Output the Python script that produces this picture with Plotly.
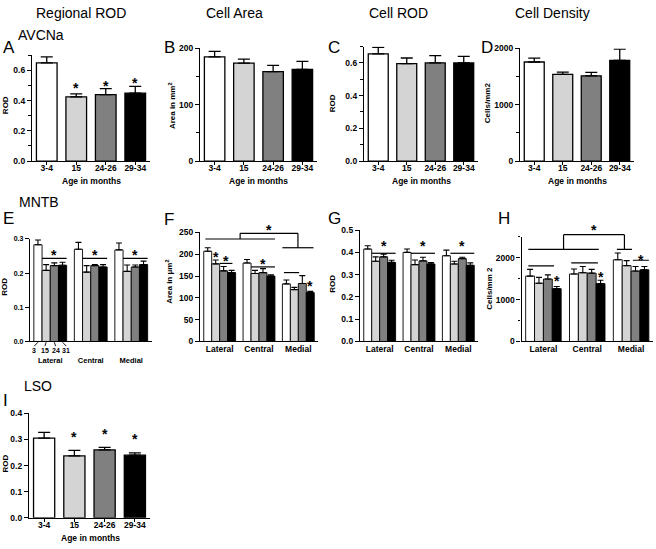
import plotly.graph_objects as go

W, H = 656, 549

ages = ["3-4", "15", "24-26", "29-34"]
age_short = ["3", "15", "24", "31"]
regions = ["Lateral", "Central", "Medial"]
age_colors = ["white", "#d4d4d4", "#808080", "black"]

# AVCNa (top row)
avcna_rod = [0.65, 0.425, 0.44, 0.45]
avcna_rod_err = [0.04, 0.02, 0.04, 0.045]
avcna_area = [185, 174, 159, 163]
avcna_area_err = [10, 7, 11, 14]
avcna_cell_rod = [0.655, 0.595, 0.60, 0.60]
avcna_cell_rod_err = [0.04, 0.035, 0.045, 0.04]
avcna_density = [1760, 1540, 1515, 1790]
avcna_density_err = [70, 40, 60, 200]

# MNTB (middle row): one list per age group, values for Lateral / Central / Medial
mntb_rod = [[0.283, 0.270, 0.268], [0.208, 0.203, 0.205], [0.222, 0.222, 0.218], [0.223, 0.218, 0.225]]
mntb_rod_err = [[0.014, 0.020, 0.020], [0.017, 0.019, 0.019], [0.008, 0.003, 0.006], [0.009, 0.007, 0.010]]
mntb_area = [[207, 180, 132], [178, 156, 119], [162, 158, 133], [158, 150, 112]]
mntb_area_err = [[8, 8, 9], [9, 7, 5], [10, 9, 18], [5, 3, 3]]
mntb_cell_rod = [[0.415, 0.400, 0.385], [0.360, 0.345, 0.348], [0.380, 0.362, 0.372], [0.355, 0.348, 0.342]]
mntb_cell_rod_err = [[0.015, 0.015, 0.025], [0.020, 0.021, 0.012], [0.012, 0.016, 0.006], [0.010, 0.006, 0.011]]
mntb_density = [[1560, 1610, 1950], [1390, 1640, 1810], [1490, 1630, 1680], [1260, 1380, 1710]]
mntb_density_err = [[160, 120, 160], [140, 150, 120], [100, 90, 110], [50, 80, 80]]

# LSO (bottom)
lso_rod = [0.305, 0.237, 0.26, 0.24]
lso_rod_err = [0.022, 0.021, 0.010, 0.009]

# significance: stars over single bars (panel, bar, y)
stars_single = [(1, 1, 0.50), (1, 2, 0.51), (1, 3, 0.53),
                (9, 1, 0.318), (9, 2, 0.328), (9, 3, 0.309)]
# stars over grouped bars (panel, group, bar, y)
stars_grouped = [(6, 0, 1, 199), (6, 2, 3, 131),
                 (8, 0, 3, 1486), (8, 1, 3, 1587)]
# lines over bars (panel, group, from, to [bar units], y, star y or None)
sig_lines = [(5, 0, 1, 4, 0.243, 0.258), (5, 1, 1, 4, 0.243, 0.258), (5, 2, 1, 4, 0.243, 0.258),
             (6, 0, 2, 3.6, 179, 190), (6, 1, 1, 4, 171, 182), (6, 2, 0.2, 2.1, 158, None),
             (7, 0, 1, 4, 0.396, 0.438), (7, 1, 1, 4, 0.396, 0.438), (7, 2, 1, 4, 0.396, 0.438),
             (8, 0, 0.3, 3.2, 1805, None), (8, 1, 0.2, 3.2, 1875, None), (8, 2, 2.2, 4, 1938, 1992)]
# brackets between region groups (panel, left span, right span, y left, y right, y top, star y)
brackets = [(6, (0, 0.2, 1, 4), (2, 0, 2, 3.9), 235, 215, 248, 261),
            (8, (0, 0.3, 1, 3.3), (2, 0.4, 2, 2.1), 2196, 2196, 2548, 2705)]

GAP = 0.19
BW = (1 - GAP) / 4


def gx(g, p):
    return g - 2 * BW + p * BW


def px(p):
    return p / W


def py(p):
    return 1 - p / H


FONT = "Liberation Sans, Arial, sans-serif"

panels = {
    1: dict(x=(32, 150), y=(159, 51.3), rng=[0, 0.7], dtick=0.2, minor=0.1, fmt=".1f"),
    2: dict(x=(200, 317), y=(159, 44.3), rng=[0, 200], dtick=100, minor=50, fmt=""),
    3: dict(x=(364, 478), y=(159, 42.3), rng=[0, 0.7], dtick=0.2, minor=0.1, fmt=".1f"),
    4: dict(x=(520, 634), y=(159, 44.3), rng=[0, 2000], dtick=1000, minor=500, fmt=""),
    5: dict(x=(30, 151.5), y=(342.7, 238.3), rng=[0, 0.3], dtick=0.1, minor=None, fmt=".1f"),
    6: dict(x=(200, 318), y=(342.7, 231.7), rng=[0, 250], dtick=50, minor=None, fmt=""),
    7: dict(x=(360, 478), y=(342.7, 229.3), rng=[0, 0.5], dtick=0.1, minor=None, fmt=".1f"),
    8: dict(x=(521.5, 653), y=(342.7, 236), rng=[0, 2500], dtick=1000, minor=500, fmt=""),
    9: dict(x=(29, 150), y=(522.3, 416), rng=[0, 0.4], dtick=0.1, minor=None, fmt=".1f"),
}


def vy(n, v):
    # value on panel n's y axis -> paper fraction (so marks above the range still show)
    p = panels[n]
    b, t = py(p["y"][0]), py(p["y"][1])
    r0, r1 = p["rng"]
    return b + (v - r0) / (r1 - r0) * (t - b)


fig = go.Figure()
layout = {}
for n, p in panels.items():
    sfx = "" if n == 1 else str(n)
    grouped = n in (5, 6, 7, 8)
    cats = regions if grouped else ages
    tick_size = 7 if n == 5 else 8.5
    layout["xaxis" + sfx] = dict(
        domain=[px(p["x"][0]), px(p["x"][1])], anchor="y" + sfx,
        type="category", categoryarray=cats, range=[-0.5, len(cats) - 0.5],
        showline=True, linecolor="black", linewidth=1.3,
        ticks="" if grouped else "outside", ticklen=3, tickcolor="black",
        ticklabelstandoff=11 if n == 5 else (-1 if grouped else -4),
        tickfont=dict(family=FONT, size=7.5 if n == 5 else 8.5, color="black", weight="bold"),
        showgrid=False, zeroline=False,
    )
    ya = dict(
        domain=[py(p["y"][0]), py(p["y"][1])], anchor="x" + sfx,
        range=p["rng"], tick0=0, dtick=p["dtick"], tickformat=p["fmt"],
        showline=True, linecolor="black", linewidth=1.3,
        ticks="outside", ticklen=4, tickcolor="black",
        tickfont=dict(family=FONT, size=tick_size, color="black", weight="bold"),
        showgrid=False, zeroline=False,
    )
    if p["minor"]:
        ya["minor"] = dict(dtick=p["minor"], ticks="outside", ticklen=2.5, tickcolor="black")
    layout["yaxis" + sfx] = ya


def single_panel(n, vals, errs):
    sfx = "" if n == 1 else str(n)
    fig.add_trace(go.Bar(
        x=ages, y=vals, width=0.7,
        marker=dict(color=age_colors, line=dict(color="black", width=1.3)),
        error_y=dict(type="data", array=errs, arrayminus=[0] * len(errs), symmetric=False,
                     color="black", thickness=1.3, width=6),
        xaxis="x" + sfx, yaxis="y" + sfx, cliponaxis=False, showlegend=False,
    ))


def grouped_panel(n, vals, errs):
    for i in range(len(ages)):
        fig.add_trace(go.Bar(
            x=regions, y=vals[i], name=ages[i],
            marker=dict(color=age_colors[i], line=dict(color="black", width=0.9)),
            error_y=dict(type="data", array=errs[i], arrayminus=[0] * 3, symmetric=False,
                         color="black", thickness=1.1, width=3),
            xaxis="x" + str(n), yaxis="y" + str(n), cliponaxis=False, showlegend=False,
        ))


single_panel(1, avcna_rod, avcna_rod_err)
single_panel(2, avcna_area, avcna_area_err)
single_panel(3, avcna_cell_rod, avcna_cell_rod_err)
single_panel(4, avcna_density, avcna_density_err)
grouped_panel(5, mntb_rod, mntb_rod_err)
grouped_panel(6, mntb_area, mntb_area_err)
grouped_panel(7, mntb_cell_rod, mntb_cell_rod_err)
grouped_panel(8, mntb_density, mntb_density_err)
single_panel(9, lso_rod, lso_rod_err)

ann = []
shapes = []


def ref(n):
    return ("x" if n == 1 else "x%d" % n), ("y" if n == 1 else "y%d" % n)


def star(n, x, y):
    xr, yr = ref(n)
    if y <= panels[n]["rng"][1]:
        yy = y
    else:
        yr, yy = "paper", vy(n, y)
    ann.append(dict(text="*", x=x, y=yy, xref=xr, yref=yr, showarrow=False, yshift=-2,
                    font=dict(family=FONT, size=14, color="black", weight="bold")))


def seg(n, x0, y0, x1, y1):
    xr, _ = ref(n)
    shapes.append(dict(type="line", xref=xr, yref="paper", x0=x0, y0=vy(n, y0), x1=x1, y1=vy(n, y1),
                       line=dict(color="black", width=1.2)))


for n, b, y in stars_single:
    star(n, b, y)
for n, g, b, y in stars_grouped:
    star(n, gx(g, b + 0.5), y)
for n, g, a, b, y, sy in sig_lines:
    seg(n, gx(g, a), y, gx(g, b), y)
    if sy is not None:
        star(n, (gx(g, a) + gx(g, b)) / 2, sy)
for n, left, right, yl, yr_, yt, sy in brackets:
    l0, l1 = gx(left[0], left[1]), gx(left[2], left[3])
    r0, r1 = gx(right[0], right[1]), gx(right[2], right[3])
    lm, rm = (l0 + l1) / 2, (r0 + r1) / 2
    seg(n, l0, yl, l1, yl)
    seg(n, r0, yr_, r1, yr_)
    seg(n, lm, yl, lm, yt)
    seg(n, lm, yt, rm, yt)
    seg(n, rm, yt, rm, yr_)
    star(n, (lm + rm) / 2, sy)

# age labels with leader lines under the lateral MNTB group
for i, lab in enumerate(age_short):
    bc = gx(0, i + 0.5)
    lx = 1.3 * bc
    shapes.append(dict(type="line", xref="x5", yref="paper", x0=bc, y0=py(343.5), x1=lx, y1=py(347.5),
                       line=dict(color="black", width=0.9)))
    ann.append(dict(text=lab, x=lx, y=py(351.5), xref="x5", yref="paper", showarrow=False,
                    font=dict(family=FONT, size=7, color="black", weight="bold")))


def text(t, x, y, size, xanchor="center", angle=0, bold=False):
    f = dict(family=FONT, size=size, color="black")
    if bold:
        f["weight"] = "bold"
    ann.append(dict(text=t, x=px(x), y=py(y), xref="paper", yref="paper", showarrow=False,
                    xanchor=xanchor, yanchor="middle", textangle=angle, font=f))


# column titles and region names
text("Regional ROD", 81, 8, 14)
text("Cell Area", 234, 8, 14)
text("Cell ROD", 398, 8, 14)
text("Cell Density", 552, 8, 14)
text("AVCNa", 16, 31, 14, "left")
text("MNTB", 17, 201, 14, "left")
text("LSO", 22, 388, 14, "left")

# panel letters
for lab, x, y in [("A", 1, 43), ("B", 162, 43), ("C", 326, 43), ("D", 479, 43),
                  ("E", 1, 217), ("F", 162, 218), ("G", 326, 217), ("H", 496, 217), ("I", 1, 403)]:
    text(lab, x, y, 17, "left")

# axis titles
for t, x, y in [("ROD", 5, 102), ("Area in mm<sup>2</sup>", 172, 103), ("ROD", 332, 100),
                ("Cells/mm2", 487, 100), ("ROD", 5, 287), ("Area in \u03bcm<sup>2</sup>", 169, 282),
                ("ROD", 333, 284), ("Cells/mm 2", 490, 289), ("ROD", 5, 467)]:
    text(t, x, y, 8, angle=-90, bold=True)
for x, y in [(91, 179), (258, 179), (421, 179), (577, 179), (90, 543)]:
    text("Age in months", x, y, 8.5, bold=True)

fig.update_layout(**layout)
fig.update_layout(
    width=W, height=H, margin=dict(l=0, r=0, t=0, b=0),
    paper_bgcolor="white", plot_bgcolor="white",
    barmode="group", bargap=GAP, bargroupgap=0,
    showlegend=False, annotations=ann, shapes=shapes,
    font=dict(family=FONT, color="black"),
)

# drop the default page margin so the 656x549 figure fills the window
fig.write_html("out.html", config={"displayModeBar": False},
               post_script="document.body.style.margin='0px';")
